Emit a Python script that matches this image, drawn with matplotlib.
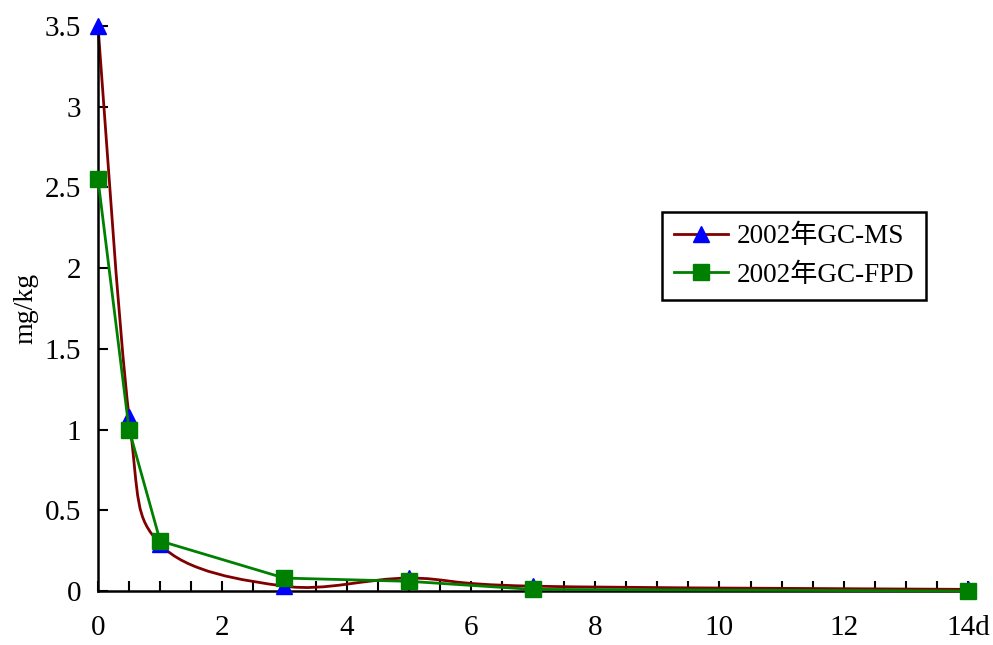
import numpy as np
import matplotlib.pyplot as plt
from matplotlib.path import Path
from matplotlib.patches import PathPatch
from matplotlib.lines import Line2D

plt.rcParams['font.family'] = ['Liberation Serif', 'Noto Sans CJK SC']

days = [0, 0.5, 1, 3, 5, 7, 14]
ms = [3.5, 1.08, 0.29, 0.03, 0.08, 0.03, 0.01]
fpd = [2.55, 1.0, 0.31, 0.08, 0.06, 0.01, 0.0]
xticks = [0, 2, 4, 6, 8, 10, 12, 14]
xlabels = ['0', '2', '4', '6', '8', '10', '12', '14d']
yticks = [0, 0.5, 1, 1.5, 2, 2.5, 3, 3.5]
ylabels = ['0', '0.5', '1', '1.5', '2', '2.5', '3', '3.5']

red = '#800000'
green = '#008000'
blue = '#0000ff'


def smooth_path(x, y):
    # excel style smoothed line: bezier segments through the points
    p = np.column_stack([x, y]).astype(float)
    n = len(p)
    verts = [p[0]]
    codes = [Path.MOVETO]
    for i in range(n - 1):
        p0 = p[i - 1] if i > 0 else p[i]
        p3 = p[i + 2] if i + 2 < n else p[i + 1]
        c1 = p[i] + (p[i + 1] - p0) / 6.0
        c2 = p[i + 1] - (p3 - p[i]) / 6.0
        verts += [c1, c2, p[i + 1]]
        codes += [Path.CURVE4] * 3
    return Path(verts, codes)


fig = plt.figure(figsize=(9.93, 6.45), dpi=100)
ax = fig.add_axes([98 / 993, 54 / 645, 870 / 993, 565 / 645])

ax.add_patch(PathPatch(smooth_path(days, ms), facecolor='none', edgecolor=red,
                       lw=2, clip_on=False, zorder=2))
ax.plot(days, ms, linestyle='none', marker='^', ms=11, color=blue,
        mec=blue, clip_on=False, zorder=3)
ax.plot(days, fpd, '-', color=green, lw=2, marker='s', ms=11,
        mec=green, clip_on=False, zorder=4)

ax.set_xlim(0, 14)
ax.set_ylim(0, 3.5)
ax.spines['top'].set_visible(False)
ax.spines['right'].set_visible(False)
ax.spines['left'].set_linewidth(1.8)
ax.spines['bottom'].set_linewidth(1.8)

ax.set_xticks(xticks)
ax.set_xticklabels(xlabels)
ax.set_xticks(np.arange(0, 14.01, 0.5), minor=True)
ax.set_yticks(yticks)
ax.set_yticklabels(ylabels)
ax.tick_params(axis='both', which='both', direction='in', length=7, width=1.5,
               labelsize=21)
ax.tick_params(axis='x', which='both', pad=17)
ax.tick_params(axis='y', pad=12)
ax.set_ylabel('mg/kg', fontsize=20, labelpad=5)

h1 = Line2D([], [], color=red, lw=2, marker='^', ms=11, mfc=blue, mec=blue)
h2 = Line2D([], [], color=green, lw=2, marker='s', ms=11, mfc=green, mec=green)
leg = ax.legend([h1, h2], ['2002年GC-MS', '2002年GC-FPD'], numpoints=1,
                loc='upper left', bbox_to_anchor=(662 / 993, 1 - 212 / 645),
                bbox_transform=fig.transFigure, fontsize=19.5, fancybox=False,
                edgecolor='black', framealpha=1, borderaxespad=0,
                handlelength=2.0, handletextpad=0.3, labelspacing=0.5,
                borderpad=0.45)
leg.get_frame().set_linewidth(1.8)

plt.savefig('out.png', dpi=100)
plt.close()
